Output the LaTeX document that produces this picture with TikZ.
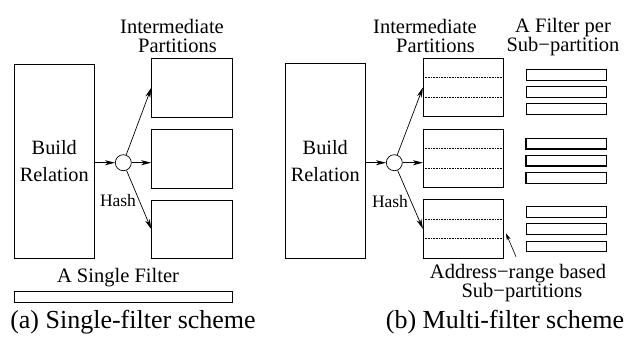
\documentclass[tikz,border=0pt]{standalone}
\usepackage{fontspec}
\setmainfont{Liberation Serif}
\usetikzlibrary{arrows.meta,calc}
\begin{document}
\begin{tikzpicture}[x=1pt,y=-1pt,
  box/.style={draw,line width=0.8pt,inner sep=0pt,align=center,font=\fontsize{20.3}{27.5}\selectfont},
  filt/.style={draw,line width=0.8pt,inner sep=0pt,minimum width=80.7pt,minimum height=10.6pt},
  hashc/.style={draw,circle,line width=0.7pt,inner sep=0pt,minimum size=16pt},
  lbl/.style={inner sep=0pt,align=center,font=\fontsize{20.5}{19.5}\selectfont},
  smalltext/.style={inner sep=0pt,font=\fontsize{17.5}{18}\selectfont},
  captext/.style={inner sep=0pt,font=\fontsize{26}{28}\selectfont},
  arr/.style={line width=0.7pt,-{Stealth[length=10pt,width=5pt,inset=3pt]}},
  sarr/.style={line width=0.6pt,-{Stealth[length=7pt,width=4pt,inset=2pt]}},
  dotline/.style={densely dotted,line width=0.6pt}]
\useasboundingbox (0,0) rectangle (634,341);
% ---------- (a) ----------
\node[box,minimum width=80pt,minimum height=194pt] (bA) at (54.3,161) {Build\\Relation};
\node[hashc] (cA) at (123.3,162.7) {};
\node[box,minimum width=80.6pt,minimum height=59pt] (pA1) at (192,87.8) {};
\node[box,minimum width=80.6pt,minimum height=59.3pt,line width=1.1pt] (pA2) at (192,158.7) {};
\node[box,minimum width=80.6pt,minimum height=58.3pt] (pA3) at (192,229.2) {};
\draw[arr] (bA.east |- cA) -- (cA.west);
\draw[arr] (cA.east) -- (cA.east -| pA2.west);
\draw[arr] (cA) -- (pA1.west);
\draw[arr] (cA) -- (pA3.west);
\node[smalltext] (hA) at (118,201) {Hash};
\node[lbl] (tA) at (172,36) {Intermediate\\\hspace*{11pt}Partitions};
\node[lbl] (sfA) at (118,278) {A Single Filter};
\node[filt,minimum width=218pt] (fA) at (123.3,297) {};
\node[captext] (capA) at (133,322) {(a) Single-filter scheme};
% ---------- (b) ----------
\node[box,minimum width=80.7pt,minimum height=195pt] (bB) at (325.3,160.8) {Build\\Relation};
\node[hashc] (cB) at (394.3,162.7) {};
\node[box,minimum width=80pt,minimum height=58.4pt] (pB1) at (463.3,87.5) {};
\node[box,minimum width=80pt,minimum height=58.3pt] (pB2) at (463.3,158.2) {};
\node[box,minimum width=80pt,minimum height=59pt] (pB3) at (463.3,228.8) {};
\foreach \p in {pB1,pB2,pB3}{
  \draw[dotline] ($(\p.north west)!0.3333!(\p.south west)$) -- ($(\p.north east)!0.3333!(\p.south east)$);
  \draw[dotline] ($(\p.north west)!0.6667!(\p.south west)$) -- ($(\p.north east)!0.6667!(\p.south east)$);
}
\draw[arr] (bB.east |- cB) -- (cB.west);
\draw[arr] (cB.east) -- (cB.east -| pB2.west);
\draw[arr] (cB) -- (pB1.west);
\draw[arr] (cB) -- (pB3.west);
\node[smalltext] (hB) at (390,202) {Hash};
\node[lbl] (tB) at (425,36) {Intermediate\\\hspace*{21pt}Partitions};
\node[lbl] (tF) at (563,37) {A Filter per\\Sub\char"2212 partition};
\node[filt] (f1) at (566.3,74.7) {};
\node[filt] (f2) at (566.3,92) {};
\node[filt] (f3) at (566.3,108.7) {};
\node[filt,line width=1.1pt] (f4) at (566.3,143.7) {};
\node[filt,line width=1.1pt] (f5) at (566.3,160.7) {};
\node[filt,line width=1.1pt] (f6) at (566.3,177.8) {};
\node[filt] (f7) at (566.3,212) {};
\node[filt] (f8) at (566.3,229) {};
\node[filt] (f9) at (566.3,246.2) {};
\coordinate (atail) at (516,256.7);
\coordinate (atip) at (506,233.3);
\draw[sarr] (atail) -- (atip);
\node[lbl] (aL) at (518,283) {Address\char"2212 range based\\\hspace*{8pt}Sub\char"2212 partitions};
\node[captext] (capB) at (505,322) {(b) Multi-filter scheme};
\end{tikzpicture}
\end{document}
